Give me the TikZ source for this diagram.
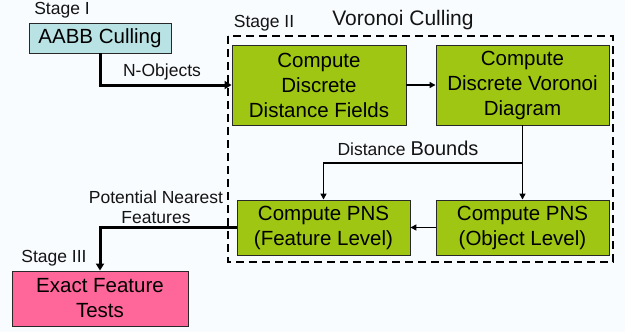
\documentclass[tikz,border=0pt]{standalone}
\usepackage{fontspec}
\setmainfont{Liberation Sans}
\usetikzlibrary{arrows.meta}
\definecolor{bgc}{RGB}{248,252,255}
\definecolor{aabbfill}{RGB}{184,226,228}
\definecolor{greenfill}{RGB}{158,198,18}
\definecolor{pinkfill}{RGB}{255,102,153}
\definecolor{edgec}{RGB}{40,40,40}
\begin{document}
\begin{tikzpicture}[x=1pt,y=-1pt,
  boxtext/.style={font=\fontsize{20.5}{25}\selectfont, align=center, inner sep=0pt},
  procbox/.style={boxtext, draw=edgec, line width=0.9pt, fill=greenfill},
  lbl/.style={font=\fontsize{17.5}{20.5}\selectfont, align=center, inner sep=0pt, text=black!92},
  thin arrow/.style={line width=1.4pt, -{Triangle[length=6pt,width=6pt]}},
  thick arrow/.style={line width=3pt, -{Triangle[length=7pt,width=8pt]}}]
  % canvas
  \fill[bgc] (0,0) rectangle (625,332);
  \useasboundingbox (0,0) rectangle (625,332);

  % stage II frame
  \draw[line width=2pt, dash pattern=on 8pt off 5pt] (228,36) rectangle (613,262);

  % boxes
  \node[boxtext, draw=edgec, line width=0.9pt, fill=aabbfill,
        minimum width=142pt, minimum height=30pt] (aabb) at (100,38) {AABB Culling};
  \node[procbox, minimum width=174pt, minimum height=80pt] (dvf) at (319,85)
       {Compute\\Discrete\\Distance Fields};
  \node[procbox, minimum width=173pt, minimum height=80pt] (dvd) at (522.5,85)
       {Compute\\Discrete Voronoi\\Diagram};
  \node[procbox, minimum width=173pt, minimum height=55pt] (pnsfeat) at (323.5,227.5)
       {Compute PNS\\(Feature Level)};
  \node[procbox, minimum width=173pt, minimum height=55pt] (pnsobj) at (522.5,227.5)
       {Compute PNS\\(Object Level)};
  \node[boxtext, draw=edgec, line width=0.9pt, fill=pinkfill,
        minimum width=176pt, minimum height=55pt] (exact) at (100,298.5)
       {Exact Feature\\Tests};

  % titles and labels
  \node[lbl] (s1) at (62,10) {Stage I};
  \node[lbl] (s2) at (264,23) {Stage II};
  \node[lbl] (s3) at (54,258) {Stage III};
  \node[lbl, font=\fontsize{21}{25}\selectfont] (vc) at (403,20) {Voronoi Culling};
  \node[lbl] (nobj) at (162,72) {N-Objects};
  \node[lbl, anchor=base] (db) at (408,155)
       {Distance {\fontsize{20}{24}\selectfont Bounds}};
  \node[lbl] (pnf) at (156,207) {Potential Nearest\\Features};

  % connectors
  \coordinate (split) at (522.5,163);
  \draw[thick arrow] (aabb.south) |- (dvf.west);
  \draw[thin arrow] (dvf.east) -- (dvd.west);
  \draw[thin arrow] (dvd.south) -- (pnsobj.north);
  \draw[thin arrow] (split) -| (pnsfeat.north);
  \draw[thin arrow] (pnsobj.west) -- (pnsfeat.east);
  \draw[thick arrow] (pnsfeat.west) -| (exact.north);
\end{tikzpicture}
\end{document}
